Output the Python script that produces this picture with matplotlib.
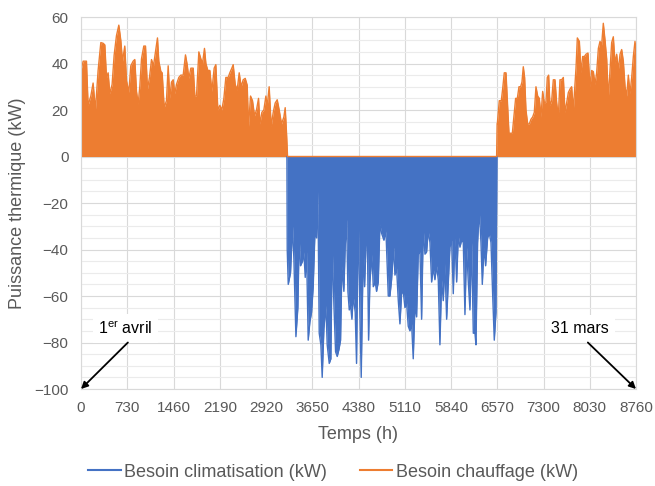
import numpy as np
import matplotlib.pyplot as plt
from matplotlib.ticker import MultipleLocator

plt.rcParams['font.family'] = ['Liberation Sans', 'DejaVu Sans']
plt.rcParams['mathtext.default'] = 'regular'

# pics horaires de chauffage, avril -> juin (h, kW)
spring_h = [0, 34, 86, 112, 155, 191, 228, 270, 313, 349, 376, 402, 428, 455, 491,
            523, 560, 597, 628, 655, 691, 718, 755, 786, 823, 849, 876, 902, 928,
            955, 991, 1018, 1049, 1081, 1113, 1144, 1176, 1207, 1228, 1260, 1281,
            1313, 1349, 1376, 1402, 1428, 1455, 1481, 1507, 1544, 1576, 1613, 1649,
            1676, 1702, 1734, 1771, 1797, 1823, 1860, 1892, 1918, 1949, 1971, 2002,
            2034, 2065, 2102, 2128, 2160, 2192, 2223, 2255, 2286, 2323, 2349, 2381,
            2402, 2434, 2465, 2497, 2528, 2560, 2592, 2623, 2644, 2676, 2707, 2739,
            2770, 2802, 2823, 2855, 2886, 2918, 2939, 2970, 3002, 3034, 3065, 3097,
            3128, 3165, 3202, 3223, 3244]
spring_kw = [37, 41, 41, 22, 26, 31.6, 20, 37, 49, 48.7, 48, 34, 36, 27, 31,
             43.6, 52, 56.5, 50, 41, 47.5, 32.6, 27.6, 39, 41, 41.7, 28, 22.6, 30,
             42, 47.5, 47.5, 29, 34, 41.7, 39, 45, 51, 41, 36.6, 36,
             21, 24, 39, 25, 32, 33, 27, 31, 34, 35, 35, 43.7,
             39.5, 33.6, 38, 38, 26, 26, 45, 42, 40, 46.5, 40, 37,
             37, 28, 38, 39.5, 20, 22, 20, 25, 34, 34, 36, 38,
             39.5, 31, 28.6, 36, 30, 33, 33.6, 30.7, 13, 26, 24, 17.5,
             20, 25, 14, 19, 20, 26, 21.6, 30, 13, 19, 23, 24.4,
             20, 14, 17, 21, 10]

# pics de climatisation, été (h, kW)
cool_h = [3255, 3271, 3307, 3339, 3360, 3392, 3423, 3444, 3465, 3497, 3518, 3539,
          3560, 3586, 3613, 3639, 3665, 3692, 3718, 3739, 3760, 3786, 3807, 3834,
          3865, 3886, 3918, 3944, 3965, 3992, 4018, 4044, 4071, 4097, 4118, 4149,
          4171, 4192, 4213, 4234, 4255, 4276, 4297, 4328, 4349, 4376, 4402, 4423,
          4455, 4476, 4497, 4518, 4539, 4560, 4592, 4613, 4644, 4665, 4692, 4718,
          4744, 4781, 4813, 4850, 4876, 4902, 4934, 4955, 4981, 5008, 5034, 5060,
          5086, 5113, 5139, 5165, 5192, 5218, 5244, 5271, 5297, 5323, 5350, 5376,
          5402, 5429, 5455, 5481, 5508, 5534, 5560, 5586, 5613, 5639, 5665, 5692,
          5718, 5744, 5771, 5797, 5823, 5850, 5876, 5902, 5929, 5955, 5981, 6007,
          6034, 6060, 6086, 6113, 6139, 6165, 6192, 6218, 6234, 6260, 6286, 6313,
          6334, 6360, 6386, 6418, 6444, 6471, 6497, 6523, 6550]
cool_kw = [-40, -55, -50, -30, -44, -77.5, -65, -34.5, -47, -45, -41, -52,
           -41, -79, -71, -67, -56, -33, -35, -15, -76, -81, -95, -74,
           -64, -81, -89, -87, -38, -64, -84, -86, -83, -79, -47, -58,
           -38, -27, -58, -66, -64, -70, -60, -67, -89, -25, -67, -95,
           -40, -56, -39, -31, -79, -54, -42, -56, -54, -58, -54, -29,
           -33, -36, -32, -60, -60, -53, -39, -51, -48, -62, -72, -59,
           -58, -65, -63, -73, -75, -72, -87, -64, -69, -42, -41, -70,
           -31, -42, -41, -32, -37, -54, -48, -53, -47, -53, -81, -53,
           -62, -46, -70, -54, -39, -36, -59, -35, -54, -34, -39, -36,
           -37, -68, -39, -54, -66, -37, -76, -76, -81, -37, -23, -37,
           -55, -39, -47, -35, -33, -37, -59, -79, -67]

# pics de chauffage, octobre -> mars (h, kW)
winter_h = [6568, 6571, 6602, 6634, 6655, 6681, 6708, 6729, 6755, 6781, 6808, 6834,
            6860, 6887, 6913, 6939, 6960, 6981, 7002, 7023, 7050, 7076, 7102, 7129,
            7155, 7181, 7208, 7234, 7260, 7287, 7313, 7339, 7360, 7381, 7402, 7429,
            7455, 7481, 7508, 7534, 7560, 7587, 7613, 7639, 7665, 7692, 7718, 7744,
            7771, 7797, 7813, 7834, 7866, 7892, 7918, 7945, 7971, 8002, 8034, 8060,
            8087, 8113, 8139, 8166, 8192, 8218, 8244, 8271, 8297, 8323, 8350, 8376,
            8402, 8429, 8455, 8481, 8508, 8534, 8560, 8587, 8613, 8639, 8665, 8692,
            8718, 8744, 8760]
winter_kw = [14, 14, 24, 24, 29, 36, 36, 24, 10, 10, 10, 17.5,
             25, 25, 30, 30, 32, 38.6, 34, 20, 14, 14, 16, 17,
             19, 30, 26, 25, 17, 28, 23, 23.5, 34, 35, 22, 24,
             33, 33, 23, 17, 33, 33, 34, 19, 23, 27.5, 29, 30,
             20, 31, 38, 51, 49.5, 36, 43, 43, 44, 44.5, 30, 37,
             36.5, 31, 36, 46.5, 49.5, 48, 57.3, 50, 42, 25, 37, 49,
             51.5, 40, 44, 37, 44, 46, 41, 30, 26, 35, 27, 34,
             43, 49.5, 46]

xticks = np.arange(0, 8761, 730)
blue = '#4472C4'
orange = '#ED7D31'
grey = '#595959'

# séries complètes (chauffage nul l'été)
heat_t = np.array(spring_h + [3260, 6560] + winter_h)
heat_kw = np.array(spring_kw + [0, 0] + winter_kw)
cool_t = np.array([3250] + cool_h + [6565])
cool_kw = np.array([0] + cool_kw + [0])

fig = plt.figure(figsize=(6.55, 4.86), dpi=100)
ax = fig.add_axes([81 / 655, 1 - 389 / 486, 555 / 655, 372 / 486])

ax.fill_between(cool_t, cool_kw, 0, color=blue, lw=0)
ax.plot(cool_t, cool_kw, color=blue, lw=1, label='Besoin climatisation (kW)')
ax.fill_between(heat_t, heat_kw, 0, color=orange, lw=0)
ax.plot(heat_t, heat_kw, color=orange, lw=1, label='Besoin chauffage (kW)')

ax.set_xlim(0, 8760)
ax.set_ylim(-100, 60)
ax.set_xticks(xticks)
ax.yaxis.set_major_locator(MultipleLocator(20))
ax.yaxis.set_minor_locator(MultipleLocator(5))
ax.set_axisbelow(True)
ax.grid(which='major', color='#d9d9d9', lw=0.8)
ax.grid(which='minor', axis='y', color='#ebebeb', lw=0.8)
ax.tick_params(which='both', length=0, labelsize=11, labelcolor=grey)
ax.tick_params(axis='y', pad=9)
ax.tick_params(axis='x', pad=9)
for s in ax.spines.values():
    s.set_color('#d9d9d9')
    s.set_linewidth(0.8)

fig.text(18 / 655, 1 - 203 / 486, 'Puissance thermique (kW)', rotation=90,
         ha='center', va='center', fontsize=13, color=grey)
fig.text(358 / 655, 1 - 434 / 486, 'Temps (h)', ha='center', va='center',
         fontsize=13, color=grey)

# repères début / fin d'année
box = dict(facecolor='white', edgecolor='none', pad=4)
arrow = dict(arrowstyle='-|>', color='black', lw=1.3, mutation_scale=10,
             shrinkA=0, shrinkB=0)
ax.text(700, -74, r'1$^{er}$ avril', ha='center', va='center', fontsize=11.5,
        bbox=box, zorder=5)
ax.annotate('', xy=(0, -100), xytext=(740, -80), arrowprops=arrow, zorder=6)
ax.text(7880, -74, '31 mars', ha='center', va='center', fontsize=11.5,
        bbox=box, zorder=5)
ax.annotate('', xy=(8760, -100), xytext=(8000, -80), arrowprops=arrow, zorder=6)

leg = fig.legend(loc='center', bbox_to_anchor=(333 / 655, 1 - 472 / 486), ncol=2,
                 frameon=False, fontsize=13, handlelength=1.8, handletextpad=0.2,
                 columnspacing=1.8)
for t in leg.get_texts():
    t.set_color(grey)
for l in leg.get_lines():
    l.set_linewidth(1.5)

fig.savefig('out.png', dpi=100)
